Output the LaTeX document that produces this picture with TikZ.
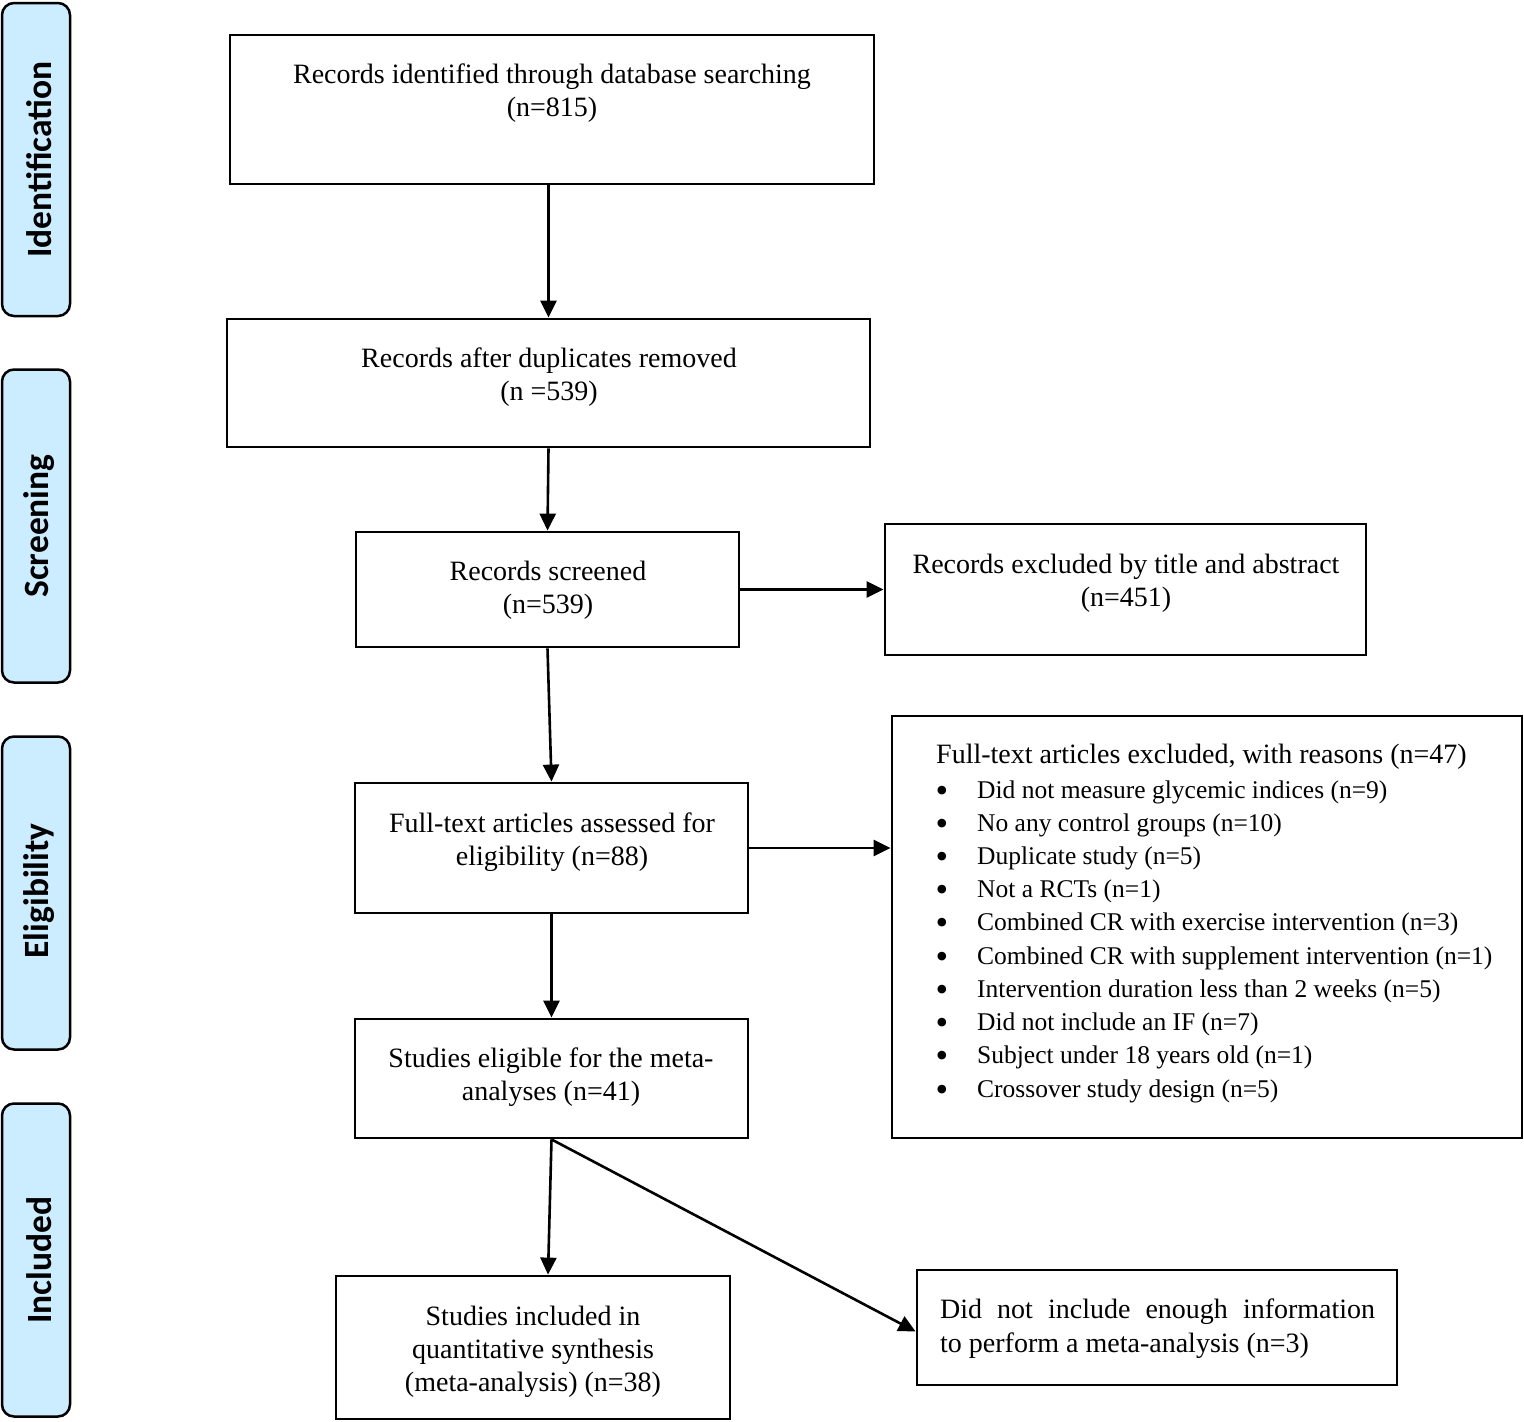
\documentclass[tikz,border=0pt]{standalone}
\usepackage{fontspec}
\setmainfont{Liberation Serif}
\newfontfamily\sidefont{Carlito}
\usetikzlibrary{arrows.meta}
\definecolor{sideblue}{RGB}{204,236,255}
\begin{document}
\begin{tikzpicture}[x=1pt,y=-1pt,
  box/.style={draw, line width=2.8pt, rectangle, inner sep=0pt},
  side/.style={draw, line width=2.5pt, fill=sideblue, rounded corners=12pt, minimum width=68pt, minimum height=313pt, inner sep=0pt},
  sidetxt/.style={rotate=90, inner sep=0pt, font=\sidefont\bfseries\fontsize{35.5}{35.5}\selectfont},
  txt/.style={align=center, inner sep=0pt, font=\fontsize{28}{33}\selectfont},
  ltxt/.style={anchor=west, inner sep=0pt, font=\fontsize{28}{33}\selectfont},
  itxt/.style={anchor=west, inner sep=0pt, font=\fontsize{25.5}{33}\selectfont},
  bul/.style={anchor=center, inner sep=0pt, font=\fontsize{36}{33}\selectfont},
  arr/.style={line width=2.6pt, -{Triangle[length=17pt,width=16pt]}},
]
\useasboundingbox (0,0) rectangle (1524,1422);
% side bars
\node[side] (s1) at (36,159.5) {};
\node[side] (s2) at (36,526) {};
\node[side] (s3) at (36,893) {};
\node[side] (s4) at (36,1260) {};
\node[sidetxt] (l1) at (39,159.5) {Identification};
\node[sidetxt] (l2) at (39,526) {Screening};
\node[sidetxt] (l3) at (39,891) {Eligibility};
\node[sidetxt] (l4) at (39,1260) {Included};
% boxes
\node[box, minimum width=644pt, minimum height=149pt] (b1) at (552,109.5) {};
\node[box, minimum width=643pt, minimum height=128pt] (b2) at (548.5,383) {};
\node[box, minimum width=383pt, minimum height=115pt] (b3) at (547.5,589.5) {};
\node[box, minimum width=481pt, minimum height=131pt] (b4) at (1125.5,589.5) {};
\node[box, minimum width=393pt, minimum height=130pt] (b5) at (551.5,848) {};
\node[box, minimum width=630pt, minimum height=422pt] (b6) at (1207,927) {};
\node[box, minimum width=393pt, minimum height=119pt] (b7) at (551.5,1078.5) {};
\node[box, minimum width=394pt, minimum height=143pt] (b8) at (533,1347.5) {};
\node[box, minimum width=480pt, minimum height=115pt] (b9) at (1157,1327.5) {};
% texts
\node[txt] (t1) at (552,93) {Records identified through database searching\\(n=815)};
\node[txt] (t2) at (549,377) {Records after duplicates removed\\(n =539)};
\node[txt] (t3) at (548,590) {Records screened\\(n=539)};
\node[txt] (t4) at (1126,583) {Records excluded by title and abstract\\(n=451)};
\node[txt] (t5) at (552,842) {Full-text articles assessed for\\eligibility (n=88)};
\node[txt] (t7) at (551,1077) {Studies eligible for the meta-\\analyses (n=41)};
\node[txt] (t8) at (533,1352) {Studies included in\\quantitative synthesis\\(meta-analysis) (n=38)};
\node[ltxt] (t9) at (940,1329) {\begin{tabular}{@{}l@{}}\hbox to 435pt{Did\hfill not\hfill include\hfill enough\hfill information}\\[1pt]to perform a meta-analysis (n=3)\end{tabular}};
\node[ltxt] (t6) at (936,757) {Full-text articles excluded, with reasons (n=47)};
\foreach \yy/\tt [count=\i] in {790/Did not measure glycemic indices (n=9),
  823/No any control groups (n=10),
  856/Duplicate study (n=5),
  889/Not a RCTs (n=1),
  922/Combined CR with exercise intervention (n=3),
  956/Combined CR with supplement intervention (n=1),
  989/Intervention duration less than 2 weeks (n=5),
  1022/Did not include an IF (n=7),
  1055/Subject under 18 years old (n=1),
  1089/Crossover study design (n=5)}{
  \node[bul] (bu\i) at (942,\yy+4) {•};
  \node[itxt] (it\i) at (977,\yy+2) {\tt};
}
% arrows
\draw[arr] (b1.south -| b2.north) -- (b2.north);
\draw[arr] (b2.south) -- (b3.north);
\draw[arr] (b3.south) -- (b5.north);
\draw[arr] (b5.south) -- (b7.north);
\draw[arr] (b7.south) -- ([xshift=15pt]b8.north);
\draw[arr] (b7.south) -- ([yshift=-4pt]b9.west);
\draw[arr] (b3.east) -- (b4.west);
\draw[arr] (b5.east) -- (b5.east -| b6.west);
\end{tikzpicture}
\end{document}
